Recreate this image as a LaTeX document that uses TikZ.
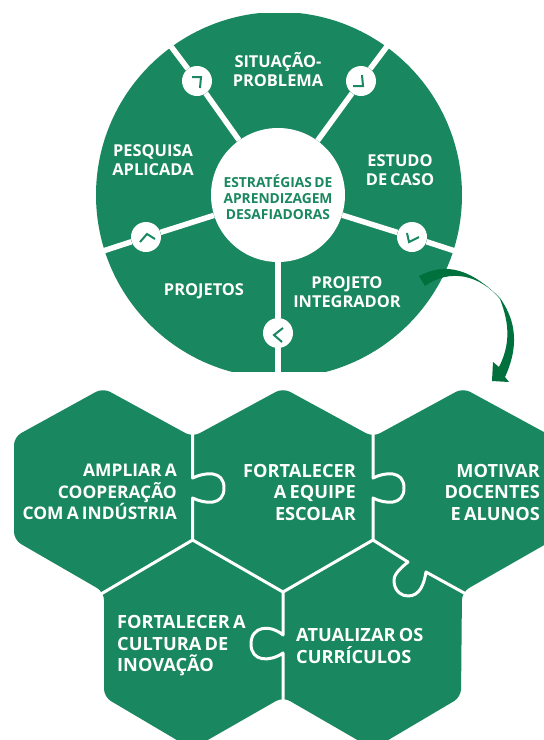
\documentclass[tikz,border=0pt]{standalone}
\usepackage{xcolor}
\usepackage{fontspec}
\setmainfont[WordSpace=0.7]{Open Sans}
\definecolor{sealgreen}{HTML}{19875F}
\definecolor{arrowgreen}{HTML}{00703C}
\tikzset{
  wheel label/.style={text=white, font=\bfseries\fontsize{16.4}{19}\selectfont, align=center, inner sep=0pt},
  hub label/.style={text=sealgreen, font=\bfseries\fontsize{13.8}{16}\selectfont, align=center, inner sep=0pt},
  piece label/.style={text=white, font=\bfseries\fontsize{18.2}{21.5}\selectfont, inner sep=0pt},
  spoke/.style={draw=white, line width=5.5pt},
  seam/.style={draw=white, line width=3pt, line join=round},
  spoke dot/.style={circle, fill=white, minimum size=30pt, inner sep=0pt},
  chevron/.style={draw=sealgreen, line width=2pt}
}
\begin{document}
\begin{tikzpicture}[x=1pt, y=-1pt]
\useasboundingbox (0,0) rectangle (544,740);

\begin{scope}
\clip (0,13) rectangle (544,371);
\fill [sealgreen] (279,195) circle (183);
\node (hub) [circle, fill=white, minimum size=134pt, inner sep=0pt] at (278,195) {};
\node (dot top left) [spoke dot] at (197,81) {};
\node (dot top right) [spoke dot] at (361,81) {};
\node (dot right) [spoke dot] at (412,237) {};
\node (dot left) [spoke dot] at (146,237) {};
\node (dot bottom) [spoke dot] at (278,333) {};
\coordinate (rim top left) at (170,45);
\coordinate (rim top right) at (388,45);
\coordinate (rim right) at (458,252);
\coordinate (rim left) at (100,252);
\coordinate (rim bottom) at (278,375);
\draw [spoke] (hub) -- (dot top left);
\draw [spoke] (dot top left) -- (rim top left);
\draw [spoke] (hub) -- (dot top right);
\draw [spoke] (dot top right) -- (rim top right);
\draw [spoke] (hub) -- (dot right);
\draw [spoke] (dot right) -- (rim right);
\draw [spoke] (hub) -- (dot left);
\draw [spoke] (dot left) -- (rim left);
\draw [spoke] (hub) -- (dot bottom);
\draw [spoke] (dot bottom) -- (rim bottom);
\end{scope}

\draw [chevron] (192,77) -- (201,77) -- (200,88);
\draw [chevron] (362,75) -- (363,86) -- (353,86);
\draw [chevron] (407,233) -- (409,242) -- (419,237);
\draw [chevron] (140,242) -- (147,234) -- (155,239);
\draw [chevron] (283,328) -- (274,335) -- (282,342);

\node (situacao problema) [wheel label] at (278,70) {SITUAÇÃO-\\PROBLEMA};
\node (pesquisa aplicada) [wheel label] at (153,160) {PESQUISA\\APLICADA};
\node (estudo de caso) [wheel label] at (400,170) {ESTUDO\\DE CASO};
\node (projeto integrador) [wheel label] at (347,292) {PROJETO\\INTEGRADOR};
\node (projetos) [wheel label] at (204,291) {PROJETOS};
\node (estrategias) [hub label] at (278,197) {ESTRATÉGIAS DE\\APRENDIZAGEM\\DESAFIADORAS};

\fill [arrowgreen] (419,276) .. controls (440,265) and (465,263) .. (500,298) .. controls (512,315) and (522,340) .. (505,377) -- (509,382) -- (492,381) -- (493,362) -- (499,367) .. controls (510,345) and (510,325) .. (500,299) .. controls (480,275) and (450,268) .. (425,286) -- cycle;

\begin{scope}
\clip (0,0) rectangle (544,740);
\fill [sealgreen, rounded corners=8pt] (103,388) -- (192.6,437) -- (283,388) -- (373,437) -- (463,388) -- (553,437) -- (553,540) -- (462,592) -- (461,697) -- (373,749) -- (283,697) -- (192,749) -- (104,697) -- (104,592) -- (14,540) -- (14,437) -- cycle;
\end{scope}

\coordinate (junction left) at (192.6,540);
\coordinate (junction mid) at (283,592);
\coordinate (junction right) at (373,540);
\coordinate (notch left) at (192.6,434);
\coordinate (notch right) at (373,434);
\coordinate (notch low) at (283,700);
\coordinate (notch far) at (466,594);
\coordinate (notch west) at (101,594);

\draw [seam] (notch left) -- (192.6,478) .. controls (205,472) and (224,470) .. (224,488) .. controls (224,506) and (205,504) .. (192.6,498) -- (junction left);
\draw [seam] (notch right) -- (373,478) .. controls (385,472) and (404,470) .. (404,488) .. controls (404,506) and (385,504) .. (373,498) -- (junction right);
\draw [seam] (notch west) -- (junction left) -- (junction mid) -- (junction right);
\draw [seam] (junction mid) -- (283,635) .. controls (270,624) and (251,626) .. (251,644) .. controls (251,662) and (270,662) .. (283,653) -- (notch low);
\draw [seam] (junction right) -- (408,562) .. controls (398,570) and (393,576) .. (394,582) .. controls (395,592) and (402,596) .. (408,596) .. controls (420,596) and (424,584) .. (426,572) -- (notch far);

\node (ampliar) [piece label, font=\bfseries\fontsize{17.4}{21.5}\selectfont, align=right, anchor=east] at (177,492) {AMPLIAR A\\COOPERAÇÃO\\COM A INDÚSTRIA};
\node (fortalecer equipe) [piece label, align=right, anchor=east] at (356,492) {FORTALECER\\A EQUIPE\\ESCOLAR};
\node (motivar) [piece label, align=right, anchor=east] at (540,492) {MOTIVAR\\DOCENTES\\E ALUNOS};
\node (fortalecer cultura) [piece label, align=left, anchor=west] at (117,646) {FORTALECER A\\CULTURA DE\\INOVAÇÃO};
\node (atualizar) [piece label, align=left, anchor=west] at (296,646) {ATUALIZAR OS\\CURRÍCULOS};

\end{tikzpicture}
\end{document}
